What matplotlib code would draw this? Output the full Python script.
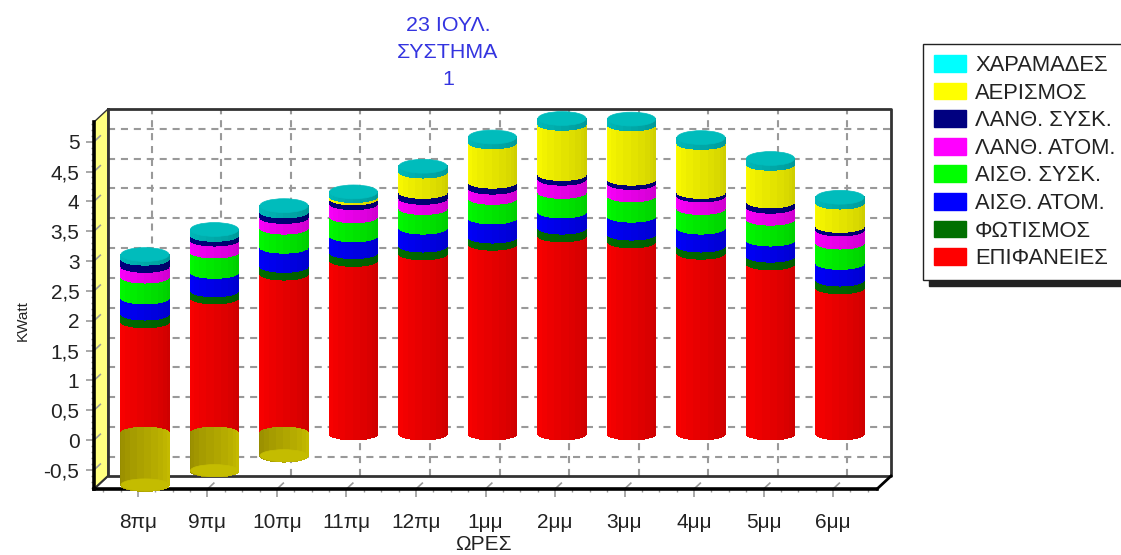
import numpy as np
import matplotlib
matplotlib.use("Agg")
import matplotlib.pyplot as plt
from matplotlib.collections import PolyCollection
from matplotlib.patches import Patch, Polygon, Ellipse

plt.rcParams['font.family'] = ['Liberation Sans', 'DejaVu Sans']

hours = ["8πμ", "9πμ", "10πμ", "11πμ", "12πμ", "1μμ", "2μμ", "3μμ", "4μμ", "5μμ", "6μμ"]
series_names = ["ΕΠΙΦΑΝΕΙΕΣ", "ΦΩΤΙΣΜΟΣ", "ΑΙΣΘ. ΑΤΟΜ.", "ΑΙΣΘ. ΣΥΣΚ.",
                "ΛΑΝΘ. ΑΤΟΜ.", "ΛΑΝΘ. ΣΥΣΚ.", "ΑΕΡΙΣΜΟΣ", "ΧΑΡΑΜΑΔΕΣ"]
series_colors = ["#ff0000", "#007000", "#0000ff", "#00ff00",
                 "#ff00ff", "#000080", "#ffff00", "#00ffff"]

surfaces = [1.88, 2.28, 2.68, 2.91, 3.02, 3.18, 3.32, 3.22, 3.03, 2.85, 2.45]
surfaces_neg = [-0.86, -0.62, -0.37, 0, 0, 0, 0, 0, 0, 0, 0]
lighting = [0.13, 0.12, 0.13, 0.13, 0.13, 0.12, 0.13, 0.13, 0.12, 0.13, 0.13]
sens_people = [0.27, 0.31, 0.32, 0.28, 0.30, 0.32, 0.27, 0.30, 0.30, 0.27, 0.28]
sens_equip = [0.35, 0.34, 0.32, 0.32, 0.33, 0.33, 0.33, 0.34, 0.33, 0.35, 0.34]
lat_people = [0.18, 0.20, 0.18, 0.22, 0.17, 0.17, 0.22, 0.21, 0.21, 0.20, 0.22]
lat_equip = [0.12, 0.08, 0.09, 0.08, 0.10, 0.10, 0.08, 0.07, 0.06, 0.09, 0.06]
ventilation = [0.0, 0.0, 0.0, 0.04, 0.34, 0.66, 0.84, 0.91, 0.82, 0.63, 0.39]
infiltration = [0.07, 0.09, 0.10, 0.07, 0.09, 0.09, 0.09, 0.09, 0.09, 0.09, 0.09]

y_ticks = [-0.5, 0, 0.5, 1, 1.5, 2, 2.5, 3, 3.5, 4, 4.5, 5]
y_tick_labels = ["-0,5", "0", "0,5", "1", "1,5", "2", "2,5", "3", "3,5", "4", "4,5", "5"]

# the axes box is the front plane of the fake 3D frame
W, H = 1121, 555
XMIN, XMAX = -0.633, 10.633
YMIN, YMAX = -0.82, 5.33
px_x = 69.5
px_y = 59.67
DX, DY = 14 / px_x, 13 / px_y  # depth of the frame
R, H_ELL = 24 / px_x, 6 / px_y  # cylinder radius

fig = plt.figure(figsize=(W / 100, H / 100), dpi=100)
ax = fig.add_axes([94 / W, 1 - 489 / H, 783 / W, 367 / H])
ax.set_xlim(XMIN, XMAX)
ax.set_ylim(YMIN, YMAX)
ax.patch.set_visible(False)

GREY = "#999999"
TEXT = "#222222"
CAP = "#00bcbc"

# floor and left wall
ax.add_patch(Polygon([(XMIN, YMIN), (XMIN + DX, YMIN + DY), (XMIN + DX, YMAX + DY), (XMIN, YMAX)],
                     fc="#ffff80", ec="#333333", lw=1, zorder=0.5, clip_on=False))
ax.plot([XMAX + DX, XMAX], [YMIN + DY, YMIN], color="black", lw=2, zorder=2, clip_on=False)
ax.plot([XMIN, XMIN + DX], [YMIN, YMIN + DY], color="#333333", lw=1.5, zorder=2, clip_on=False)

# back wall grid
for v in y_ticks:
    ax.plot([XMIN + DX, XMAX + DX], [v + DY, v + DY], color=GREY, lw=1.5,
            dashes=(3.4, 2.8), zorder=1, clip_on=False)
for i in range(len(hours)):
    ax.plot([i + DX, i + DX], [YMIN + DY, YMAX + DY], color=GREY, lw=1.5,
            dashes=(3.4, 2.8), zorder=1, clip_on=False)
ax.plot([XMIN + DX, XMIN + DX, XMAX + DX, XMAX + DX, XMIN + DX],
        [YMAX + DY, YMIN + DY, YMIN + DY, YMAX + DY, YMAX + DY],
        color="#333333", lw=2, zorder=1.5, clip_on=False)

# short slanted tick marks running onto the wall and floor
for v in y_ticks:
    ax.plot([XMIN, XMIN + DX * 0.45], [v, v + DY * 0.45], color=GREY, lw=1.2, zorder=2, clip_on=False)
for i in range(len(hours)):
    ax.plot([i, i + DX * 0.45], [YMIN, YMIN + DY * 0.45], color=GREY, lw=1.2, zorder=2, clip_on=False)


def shaded(color, k):
    return tuple(c * (1 - 0.2 * k) for c in matplotlib.colors.to_rgb(color))


theta = np.linspace(np.pi, 0, 11)
cos_t, sin_t = np.cos(theta), np.sin(theta)
x_mid = DX / 2
y_mid = DY / 2

# cylinders, bottom segment first
stack_values = [surfaces, lighting, sens_people, sens_equip, lat_people, lat_equip, ventilation, infiltration]
side_colors = series_colors[:-1] + [CAP]
for i in range(len(hours)):
    cx = i + x_mid
    base = 0.0
    for values, color in zip(stack_values, side_colors):
        val = values[i]
        if val <= 0:
            continue
        top = base + val
        polys, cols = [], []
        for k in range(len(theta) - 1):
            xa, xb = cx + R * cos_t[k], cx + R * cos_t[k + 1]
            polys.append([(xa, base + y_mid - H_ELL * sin_t[k]), (xb, base + y_mid - H_ELL * sin_t[k + 1]),
                          (xb, top + y_mid - H_ELL * sin_t[k + 1]), (xa, top + y_mid - H_ELL * sin_t[k])])
            cols.append(shaded(color, (k + 0.5) / (len(theta) - 1)))
        ax.add_collection(PolyCollection(polys, facecolors=cols, edgecolors=cols, linewidths=0.6,
                                         antialiaseds=False, zorder=5, clip_on=False))
        base = top
    # cap
    ax.add_patch(Ellipse((cx, base + y_mid), 2 * R, 2.3 * H_ELL, fc=CAP, ec=CAP, lw=0.5,
                         zorder=6, clip_on=False))
    # negative part seen from below
    neg = surfaces_neg[i]
    if neg < 0:
        polys, cols = [], []
        for k in range(len(theta) - 1):
            xa, xb = cx + R * cos_t[k], cx + R * cos_t[k + 1]
            polys.append([(xa, neg + y_mid - H_ELL * sin_t[k]), (xb, neg + y_mid - H_ELL * sin_t[k + 1]),
                          (xb, y_mid + H_ELL * sin_t[k + 1]), (xa, y_mid + H_ELL * sin_t[k])])
            f = (k + 0.5) / (len(theta) - 1)
            cols.append((0.58 + 0.2 * f, 0.54 + 0.2 * f, 0.0))
        ax.add_collection(PolyCollection(polys, facecolors=cols, edgecolors=cols, linewidths=0.6,
                                         antialiaseds=False, zorder=6, clip_on=False))
        ax.add_patch(Ellipse((cx, neg + y_mid), 2 * R, 2 * H_ELL, fc="#c4bc00", ec="#c4bc00", lw=0.5,
                             zorder=7, clip_on=False))

# axes
for side in ["top", "right"]:
    ax.spines[side].set_visible(False)
for side in ["left", "bottom"]:
    ax.spines[side].set_linewidth(2.6)
    ax.spines[side].set_color("black")
    ax.spines[side].set_zorder(3)

ax.set_xticks(range(len(hours)))
ax.set_xticklabels(hours, fontsize=15, color=TEXT)
ax.set_xticks(np.arange(-0.5, 10.6, 0.25), minor=True)
ax.set_yticks(y_ticks)
ax.set_yticklabels(y_tick_labels, fontsize=15, color=TEXT)
ax.set_yticks(np.arange(-0.8, 5.31, 0.1), minor=True)
ax.tick_params(axis="both", which="major", length=6, width=1.2, color=GREY)
ax.tick_params(axis="both", which="minor", length=2.5, width=1, color=GREY)
ax.tick_params(axis="y", which="major", pad=4.5)
ax.tick_params(axis="x", which="major", pad=11)

fig.text(23 / W, 1 - 321 / H, "KWatt", rotation=90, ha="center", va="center", fontsize=11, color=TEXT)
fig.text(483 / W, 1 - 545 / H, "ΩΡΕΣ", ha="center", va="center", fontsize=15, color=TEXT)

fig.text(448 / W, 1 - 52.5 / H, "23 ΙΟΥΛ.\nΣΥΣΤΗΜΑ\n1", ha="center", va="center",
         fontsize=15.4, color="#3434e0", linespacing=1.56, multialignment="center")

# legend, top entry is the last series; its box runs off the right side of the figure
handles = [Patch(fc=c, ec=c) for c in series_colors[::-1]]
fig.legend(handles, series_names[::-1], loc="upper left",
           bbox_to_anchor=(923 / W, 1 - 44 / H), bbox_transform=fig.transFigure,
           fontsize=15.8, frameon=True, fancybox=False, edgecolor=TEXT, framealpha=1,
           borderaxespad=0, borderpad=0.5, handlelength=1.46, handleheight=0.8,
           handletextpad=0.41, labelspacing=0.3, labelcolor=TEXT,
           shadow={"ox": 4, "oy": -4, "color": "#222222", "alpha": 1})

fig.savefig("out.png", dpi=100)
